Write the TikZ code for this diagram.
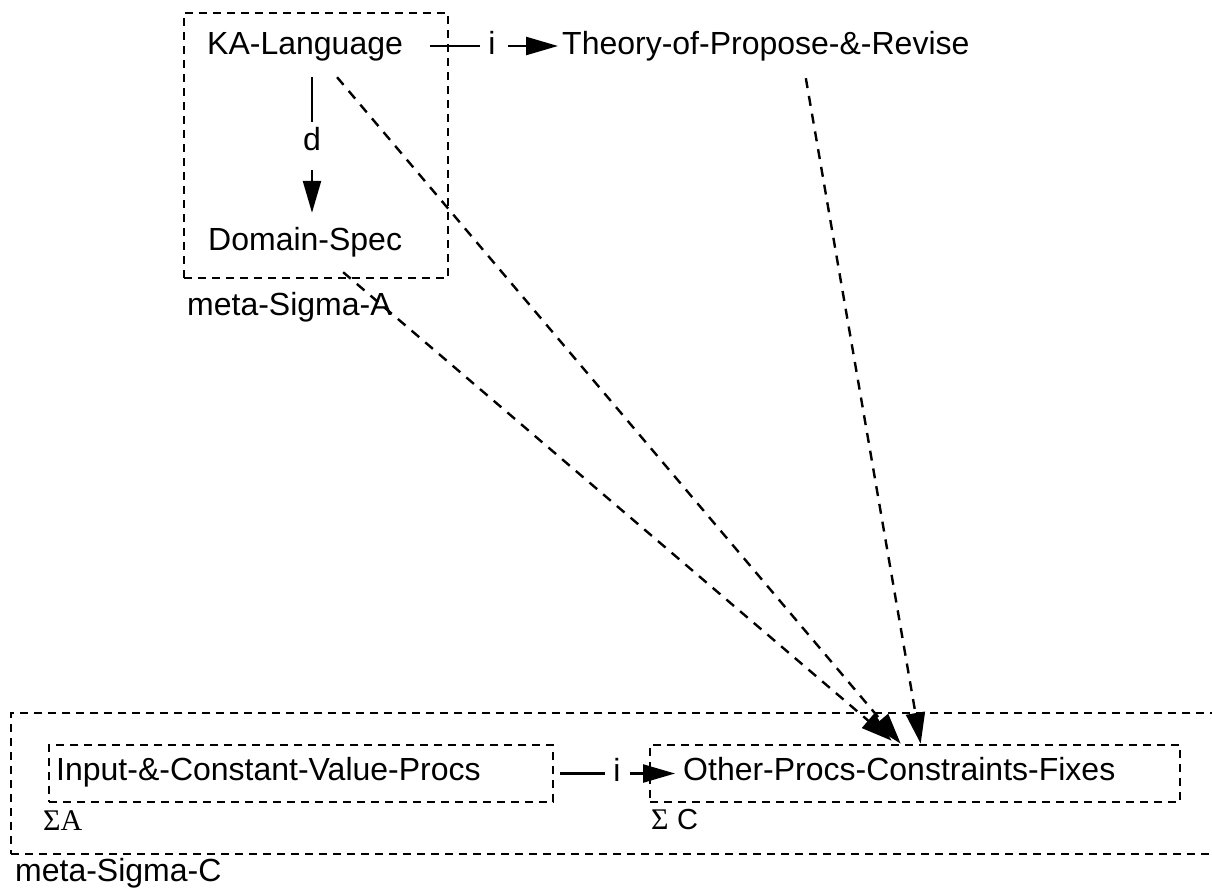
\documentclass[tikz,border=0pt]{standalone}
\usepackage{fontspec}
\setmainfont{Liberation Sans}
\newfontfamily\serifsig{Liberation Serif}
\usetikzlibrary{arrows.meta,calc}
\begin{document}
\begin{tikzpicture}[x=1pt,y=-1pt,
  lbl/.style={inner sep=0pt, text height=23pt, text depth=7pt, font=\fontsize{32}{38}\selectfont},
  sig/.style={inner sep=0pt, anchor=base west, font=\fontsize{30}{36}\selectfont},
  dbox/.style={draw, line width=2.6pt, dash pattern=on 8pt off 6pt, inner sep=0pt},
  rel/.style={line width=2.4pt},
  relarrow/.style={line width=2.4pt, -{Triangle[length=32pt,width=18pt]}},
  dep/.style={line width=2.4pt, dash pattern=on 10pt off 8pt, -{Triangle[length=31pt,width=19pt]}},
]
\useasboundingbox (0,0) rectangle (1212,889);

% upper meta level
\node[dbox, minimum width=264pt, minimum height=265pt] (msa) at (316,145.5) {};
\node[lbl, anchor=west] (ka) at (207,46) {KA-Language};
\node[lbl, anchor=west] (ds) at (208,242) {Domain-Spec};
\node[lbl, anchor=west] (th) at (562,46) {Theory-of-Propose-\&-Revise};
\node[lbl, anchor=base west] (msalbl) at (187,315) {meta-Sigma-A};

% d: KA-Language -> Domain-Spec
\node[lbl] (dl) at (312,142) {d};
\draw[rel, shorten <=16pt, shorten >=5pt] (dl |- ka.south) -- (dl.north);
\draw[relarrow, shorten <=13pt, shorten >=14pt] (dl.south) -- (dl |- ds.north);

% i: KA-Language -> Theory
\node[lbl] (il1) at (492,46) {i};
\draw[rel, shorten <=27pt, shorten >=8pt] (ka.east) -- (il1.west);
\draw[relarrow, shorten <=12pt, shorten >=4pt] (il1.east) -- (th.west);

% lower meta level
\node[dbox, minimum width=1205pt, minimum height=141pt] (msc) at (613.5,783.5) {};
\node[dbox, minimum width=504pt, minimum height=57pt] (sa) at (301,773.5) {};
\node[dbox, minimum width=530pt, minimum height=57pt] (sc) at (915,773.5) {};
\node[lbl, anchor=west] (inp) at (56,772) {Input-\&-Constant-Value-Procs};
\node[lbl, anchor=west] (oth) at (683,772) {Other-Procs-Constraints-Fixes};
\node[sig] (salbl) at (43,830) {\serifsig ΣA};
\node[sig] (sclbl) at (651,829) {{\serifsig Σ} {\fontsize{29}{34}\selectfont C}};
\node[lbl, anchor=base west] (msclbl) at (15,881) {meta-Sigma-C};

% i: Input-&-Constant-Value-Procs -> Other-Procs-Constraints-Fixes
\node[lbl] (il2) at (617,773.5) {i};
\draw[rel, shorten <=6pt, shorten >=8pt] (sa.east) -- (il2.west);
\draw[relarrow, shorten <=9pt, shorten >=8pt] (il2.east) -- (oth.west |- il2.east);

% dashed dependencies into the lower level
\draw[dep] ($(ka.south)+(32,16)$) -- ($(sc.north west)+(252,0)$);
\draw[dep] ($(ds.south)+(38,15)$) -- ($(sc.north west)+(243,-3)$);
\draw[dep] ($(th.south)+(40,17)$) -- ($(sc.north west)+(272,0)$);
\end{tikzpicture}
\end{document}
